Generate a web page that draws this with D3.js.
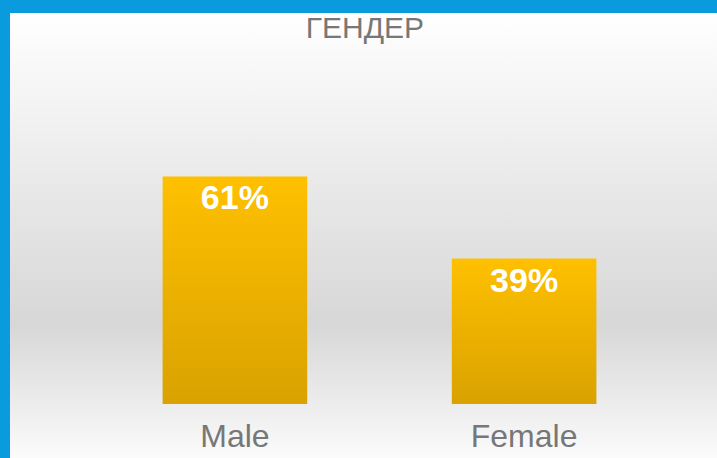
<!DOCTYPE html>
<html>
<head>
<meta charset="utf-8">
<script src="https://cdn.jsdelivr.net/npm/d3@7"></script>
<style>
  html, body { margin: 0; padding: 0; background: #0a9ade; }
  #chart-area { width: 717px; height: 458px; }
</style>
</head>
<body>
<div id="chart-area"></div>
<script>
// data
const categories = ["Male", "Female"];
const values = [61, 39];
const valueLabels = ["61%", "39%"];
const title = "ГЕНДЕР";

const width = 717;
const height = 458;

const svg = d3.select("#chart-area")
	.append("svg")
	.attr("width", width)
	.attr("height", height);

const defs = svg.append("defs");

// background gradient
const bg = defs.append("linearGradient")
	.attr("id", "bg-grad")
	.attr("x1", 0).attr("y1", 0).attr("x2", 0).attr("y2", 1);
bg.append("stop").attr("offset", "0%").attr("stop-color", "#ffffff");
bg.append("stop").attr("offset", "70%").attr("stop-color", "#d7d7d7");
bg.append("stop").attr("offset", "100%").attr("stop-color", "#fbfbfb");

// bar gradient
const barGrad = defs.append("linearGradient")
	.attr("id", "bar-grad")
	.attr("x1", 0).attr("y1", 0).attr("x2", 0).attr("y2", 1);
barGrad.append("stop").attr("offset", "0%").attr("stop-color", "#ffc000");
barGrad.append("stop").attr("offset", "100%").attr("stop-color", "#d9a200");

// blue frame + panel
svg.append("rect")
	.attr("width", width)
	.attr("height", height)
	.attr("fill", "#0a9ade");

svg.append("rect")
	.attr("x", 10)
	.attr("y", 13)
	.attr("width", width - 10)
	.attr("height", height - 13)
	.attr("fill", "url(#bg-grad)");

// scales
const x = d3.scaleBand()
	.domain(categories)
	.range([18, 741])
	.padding(0.5);

const y = d3.scaleLinear()
	.domain([0, 100])
	.range([404, 31]);

// title
svg.append("text")
	.attr("x", 365)
	.attr("y", 38)
	.attr("text-anchor", "middle")
	.attr("font-family", "Liberation Sans, Arial, sans-serif")
	.attr("font-size", "30px")
	.attr("fill", "#777777")
	.text(title);

// bars
svg.selectAll("rect.bar")
	.data(values)
	.enter()
	.append("rect")
	.attr("class", "bar")
	.attr("x", (d, i) => x(categories[i]))
	.attr("y", d => y(d))
	.attr("width", x.bandwidth())
	.attr("height", d => y(0) - y(d))
	.attr("fill", "url(#bar-grad)");

// value labels
svg.selectAll("text.value")
	.data(values)
	.enter()
	.append("text")
	.attr("class", "value")
	.attr("x", (d, i) => x(categories[i]) + x.bandwidth() / 2)
	.attr("y", d => y(d) + 33)
	.attr("text-anchor", "middle")
	.attr("font-family", "Liberation Sans, Arial, sans-serif")
	.attr("font-weight", "bold")
	.attr("font-size", "34px")
	.attr("fill", "#ffffff")
	.text((d, i) => valueLabels[i]);

// category axis
const xAxis = d3.axisBottom(x).tickSize(0).tickPadding(0);
const xAxisGroup = svg.append("g")
	.attr("transform", "translate(0," + 420 + ")")
	.call(xAxis);
xAxisGroup.select(".domain").remove();
xAxisGroup.selectAll("text")
	.attr("dy", "0")
	.attr("y", 27)
	.attr("font-family", "Liberation Sans, Arial, sans-serif")
	.attr("font-size", "32px")
	.attr("fill", "#777777");
</script>
</body>
</html>
